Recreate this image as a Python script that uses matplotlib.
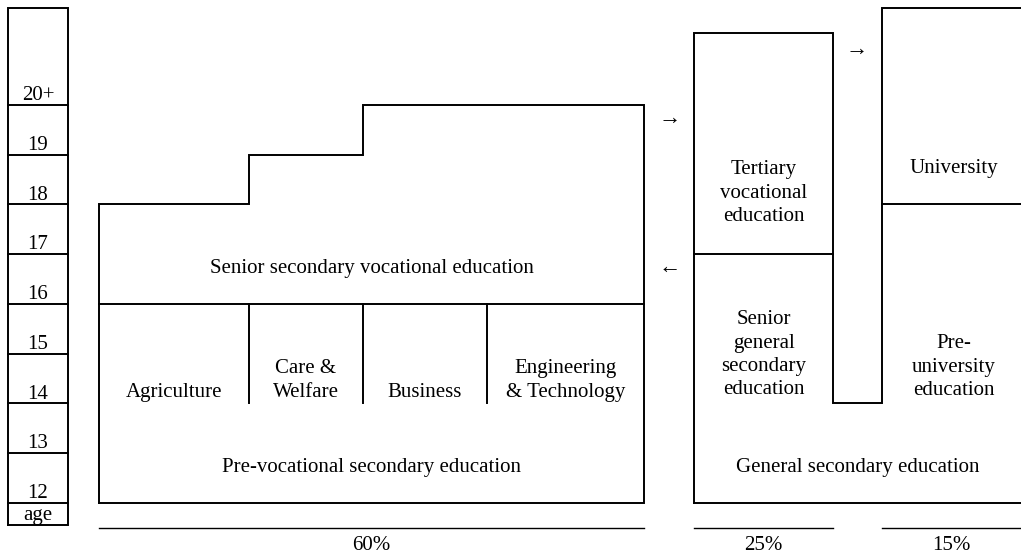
import matplotlib
matplotlib.use("Agg")
import matplotlib.pyplot as plt

plt.rcParams['font.family'] = ['Liberation Serif', 'DejaVu Serif']

# age axis (years), bottom boundary of each labelled year
ages = [12, 13, 14, 15, 16, 17, 18, 19, 20]
age_labels = ['12', '13', '14', '15', '16', '17', '18', '19', '20+']
age_top = 21.95
age_floor = 11.56

# vocational track
voc_x = [99, 249, 363, 487, 644]
voc_tops = [18, 19, 20, 20]          # top age of each step column
voc_split = 16                       # pre-vocational / senior vocational boundary
voc_sector_bottom = 14
sectors = ['Agriculture', 'Care &\nWelfare', 'Business', 'Engineering\n& Technology']

# general track
gen_x = [694, 833, 882, 1021]
tert_span = (17, 21.45)
uni_span = (18, 21.95)
notch_age = 14
shares = ['60%', '25%', '15%']

fig = plt.figure(figsize=(10.21, 5.54), dpi=100)
ax = fig.add_axes([0, 0, 1, 1])
ax.set_xlim(0, 1021)
ax.set_ylim(12 - 51 / 49.75, 12 + 503 / 49.75)
ax.axis('off')

lw = 1.4
kw = dict(color='black', lw=lw, solid_capstyle='projecting', solid_joinstyle='miter')
fs = 15
ls = 1.3

# age column
ax.plot([8, 68, 68, 8, 8], [age_floor, age_floor, age_top, age_top, age_floor], **kw)
for a, lab in zip(ages, age_labels):
    ax.plot([8, 68], [a, a], **kw)
    ax.text(38, a + 0.1, lab, ha='center', va='baseline', fontsize=fs)
ax.text(38, 11.66, 'age', ha='center', va='baseline', fontsize=fs)

# vocational outline with steps
xs = [voc_x[0], voc_x[0]]
ys = [12, voc_tops[0]]
for i in range(1, 4):
    if voc_tops[i] != voc_tops[i - 1]:
        xs += [voc_x[i], voc_x[i]]
        ys += [voc_tops[i - 1], voc_tops[i]]
xs += [voc_x[-1], voc_x[-1], voc_x[0]]
ys += [voc_tops[-1], 12, 12]
ax.plot(xs, ys, **kw)
ax.plot([voc_x[0], voc_x[-1]], [voc_split, voc_split], **kw)
for x in voc_x[1:-1]:
    ax.plot([x, x], [voc_split, voc_sector_bottom], **kw)
for i, s in enumerate(sectors):
    ax.text((voc_x[i] + voc_x[i + 1]) / 2, voc_sector_bottom + 0.04, s,
            ha='center', va='bottom', fontsize=fs, linespacing=ls)
mid_voc = (voc_x[0] + voc_x[-1]) / 2
ax.text(mid_voc, 16.71, 'Senior secondary vocational education', ha='center', va='center', fontsize=fs)
ax.text(mid_voc, 12.72, 'Pre-vocational secondary education', ha='center', va='center', fontsize=fs)

# general track outline
gx = [gen_x[0], gen_x[0], gen_x[1], gen_x[1], gen_x[2], gen_x[2], gen_x[3]]
gy = [12, tert_span[1], tert_span[1], notch_age, notch_age, uni_span[1], uni_span[1]]
ax.plot(gx, gy, **kw)
ax.plot([gen_x[0], gen_x[3]], [12, 12], **kw)
ax.plot([gen_x[0], gen_x[1]], [tert_span[0], tert_span[0]], **kw)
ax.plot([gen_x[2], gen_x[3]], [uni_span[0], uni_span[0]], **kw)

c1 = (gen_x[0] + gen_x[1]) / 2
c2 = (gen_x[2] + gen_x[3]) / 2 + 2
ax.text(c1, 18.23, 'Tertiary\nvocational\neducation', ha='center', va='center', fontsize=fs, linespacing=ls)
ax.text(c2, 18.72, 'University', ha='center', va='center', fontsize=fs)
ax.text(c1, 14.98, 'Senior\ngeneral\nsecondary\neducation', ha='center', va='center', fontsize=fs, linespacing=ls)
ax.text(c2, 14.73, 'Pre-\nuniversity\neducation', ha='center', va='center', fontsize=fs, linespacing=ls)
ax.text((gen_x[0] + gen_x[3]) / 2, 12.72, 'General secondary education', ha='center', va='center', fontsize=fs)

# arrows between tracks
ax.text(670, 19.7, '\u2192', ha='center', va='center', fontsize=fs + 1)
ax.text(670, 16.71, '\u2190', ha='center', va='center', fontsize=fs + 1)
ax.text(857, 21.1, '\u2192', ha='center', va='center', fontsize=fs + 1)

# share bars
share_y = 11.5
spans = [(voc_x[0], voc_x[-1]), (gen_x[0], gen_x[1]), (gen_x[2], gen_x[3])]
for (x0, x1), s in zip(spans, shares):
    ax.plot([x0, x1], [share_y, share_y], color='black', lw=1.0)
    ax.text((x0 + x1) / 2, 11.06, s, ha='center', va='baseline', fontsize=fs)

fig.savefig('out.png', dpi=100)
